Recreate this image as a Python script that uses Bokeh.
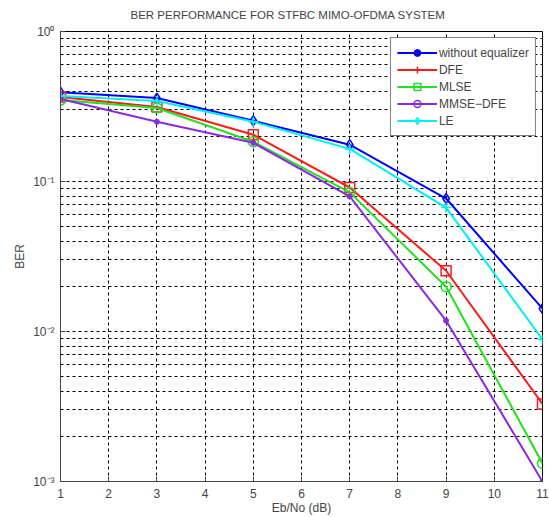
import numpy as np
from bokeh.plotting import figure
from bokeh.models import FixedTicker, Legend, LegendItem, ColumnDataSource, Title
from bokeh.embed import file_html
from bokeh.resources import INLINE

ebno = [1, 3, 5, 7, 9, 11]
ber_noeq = [0.394, 0.36, 0.254, 0.176, 0.077, 0.0142]
ber_dfe = [0.366, 0.314, 0.205, 0.0912, 0.0254, 0.00329]
ber_mlse = [0.349, 0.309, 0.184, 0.0846, 0.0199, 0.00132]
ber_mmse = [0.355, 0.25, 0.181, 0.0796, 0.0118, 0.001]
ber_le = [0.372, 0.344, 0.25, 0.165, 0.067, 0.00885]

x_ticks = list(range(1, 12))
y_decades = [1e-3, 1e-2, 1e-1, 1.0]
y_labels = ["10\u207b\u00b3", "10\u207b\u00b2", "10\u207b\u00b9", "10\u2070"]

series = [
    ("without equalizer", ber_noeq, "#0000ff", "diamond", "asterisk"),
    ("DFE", ber_dfe, "#ff1a1a", "square", "cross"),
    ("MLSE", ber_mlse, "#22e022", "circle", "square"),
    ("MMSE\u2212DFE", ber_mmse, "#8a2be2", "dot", "circle"),
    ("LE", ber_le, "#00f0f0", "cross", "diamond"),
]

FONT = "Liberation Sans"

p = figure(width=549, height=517, y_axis_type="log", x_range=(1, 11), y_range=(1e-3, 1),
           output_backend="svg", toolbar_location=None,
           min_border_left=60, min_border_right=7, min_border_top=31, min_border_bottom=34)
p.background_fill_color = "white"
p.border_fill_color = "white"
p.outline_line_color = "black"
p.outline_line_width = 1

p.title.text = "BER PERFORMANCE FOR STFBC MIMO-OFDMA SYSTEM"
p.title.align = "left"
p.title.offset = 70
p.title.text_font = FONT
p.title.text_font_style = "normal"
p.title.text_font_size = "11.5px"
p.title.standoff = 2
# spacer between the title and the frame
p.add_layout(Title(text=" ", text_font_size="1px", standoff=7), "above")

minor = [m * d for d in y_decades[:-1] for m in range(2, 10)]
p.yaxis.ticker = FixedTicker(ticks=y_decades, minor_ticks=minor)
p.yaxis.major_label_overrides = {d: lab for d, lab in zip(y_decades, y_labels)}
p.xaxis.ticker = FixedTicker(ticks=x_ticks)

for ax in (p.xaxis, p.yaxis):
    ax.major_label_text_font = FONT
    ax.major_label_text_font_size = "12px"
    ax.axis_label_text_font = FONT
    ax.axis_label_text_font_size = "12px"
    ax.axis_label_text_font_style = "normal"
    ax.major_tick_in = 5
    ax.major_tick_out = 0
    ax.minor_tick_in = 0
    ax.minor_tick_out = 0
    ax.axis_line_color = "#444444"
    ax.major_tick_line_color = "#444444"

p.xaxis.axis_label = "Eb/No (dB)"
p.yaxis.axis_label = "BER"
p.xaxis.major_label_standoff = 7
p.xaxis.axis_label_standoff = 0
p.yaxis.major_label_standoff = 6
p.yaxis.axis_label_standoff = 3

p.xgrid.grid_line_color = "black"
p.xgrid.grid_line_dash = "3 3"
p.xgrid.grid_line_width = 1
p.ygrid.grid_line_color = "black"
p.ygrid.grid_line_dash = "3 3"
p.ygrid.minor_grid_line_color = "black"
p.ygrid.minor_grid_line_dash = "3 3"

items = []
for name, vals, color, mk, legmk in series:
    src = ColumnDataSource(dict(x=ebno, y=vals))
    ln = p.line("x", "y", source=src, line_color=color, line_width=2)
    if mk == "dot":
        sc = p.scatter("x", "y", source=src, marker="circle", size=5, line_color=color, fill_color=color)
    else:
        sc = p.scatter("x", "y", source=src, marker=mk, size=10, line_color=color,
                       fill_color=None, line_width=1.5)
    dummy = ColumnDataSource(dict(x=[np.nan], y=[np.nan]))
    lgl = p.line("x", "y", source=dummy, line_color=color, line_width=2)
    if legmk == "asterisk":
        lgm = p.scatter("x", "y", source=dummy, marker="circle", size=5, line_color=color, fill_color=color)
    else:
        lgm = p.scatter("x", "y", source=dummy, marker=legmk, size=9, line_color=color,
                        fill_color=None, line_width=1.5)
    items.append(LegendItem(label=name, renderers=[lgl, lgm]))

legend = Legend(items=items, location="top_right")
legend.border_line_color = "black"
legend.border_line_width = 1
legend.label_text_font = FONT
legend.label_text_font_size = "12px"
legend.glyph_width = 40
legend.glyph_height = 17
legend.label_height = 17
legend.spacing = 0
legend.padding = 6
legend.margin = 6
legend.label_standoff = 2
legend.background_fill_alpha = 1
p.add_layout(legend)

open("out.html", "w").write(file_html(p, INLINE))
